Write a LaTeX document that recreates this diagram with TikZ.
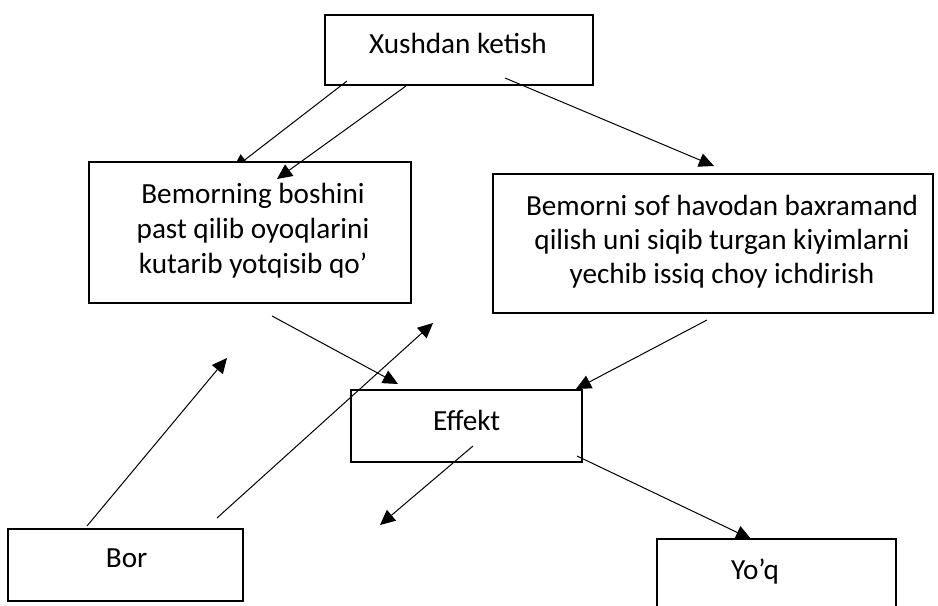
\documentclass[tikz,border=0pt]{standalone}
\usepackage{fontspec}
\setmainfont{Carlito}
\usetikzlibrary{arrows.meta}
\begin{document}
\begin{tikzpicture}[x=0.75pt,y=-0.75pt,
  box/.style={draw, line width=1.6pt, fill=white, inner sep=0pt, outer sep=0pt},
  lbl/.style={font=\fontsize{21.9pt}{26pt}\selectfont, inner sep=0pt, anchor=base},
  arr/.style={line width=0.75pt, -{Triangle[length=11.3pt,width=10.5pt]}}]
\useasboundingbox (0,0) rectangle (938,606);
\clip (0,0) rectangle (938,606);
% connector end points
\coordinate (a1s) at (347,81);  \coordinate (a1e) at (233,169);
\coordinate (a2s) at (406,86);  \coordinate (a2e) at (277,179);
\coordinate (a3s) at (505,78);  \coordinate (a3e) at (714,166);
\coordinate (a4s) at (272,316); \coordinate (a4e) at (398,384);
\coordinate (a5s) at (217,518); \coordinate (a5e) at (433,323);
\coordinate (a6s) at (707,320); \coordinate (a6e) at (576,389);
\coordinate (a7s) at (87,526);  \coordinate (a7e) at (227,358);
\coordinate (a8s) at (473,446); \coordinate (a8e) at (380,525);
\coordinate (a9s) at (577,456); \coordinate (a9e) at (751,539);
% boxes
\node[box, minimum width=267.7*0.75pt, minimum height=70*0.75pt] (top) at (458.9,50) {};
\node[box, minimum width=231*0.75pt, minimum height=72*0.75pt] (eff) at (466.2,426) {};
\node[box, minimum width=440*0.75pt, minimum height=138.7*0.75pt] (rbox) at (713,243.3) {};
\node[box, minimum width=235*0.75pt, minimum height=72*0.75pt] (bor) at (125.8,565) {};
\draw[arr] (a1s) -- (a1e);
\node[box, minimum width=322*0.75pt, minimum height=141*0.75pt] (lbox) at (250,232.5) {};
\draw[arr] (a9s) -- (a9e);
\node[box, minimum width=239*0.75pt, minimum height=101*0.75pt] (yoq) at (776.5,589.5) {};
% connectors
\draw[arr] (a2s) -- (a2e);
\draw[arr] (a3s) -- (a3e);
\draw[arr] (a4s) -- (a4e);
\draw[arr] (a5s) -- (a5e);
\draw[arr] (a6s) -- (a6e);
\draw[arr] (a7s) -- (a7e);
\draw[arr] (a8s) -- (a8e);
% texts
\node[lbl] (ttop) at (458,54) {Xushdan ketish};
\node[lbl] (tl1) at (253,203) {Bemorning boshini};
\node[lbl] (tl2) at (253,238) {past qilib oyoqlarini};
\node[lbl] (tl3) at (253,273) {kutarib yotqisib qo’};
\node[lbl] (tr1) at (722,215) {Bemorni sof havodan baxramand};
\node[lbl] (tr2) at (722,249) {qilish uni siqib turgan kiyimlarni};
\node[lbl] (tr3) at (722,283) {yechib issiq choy ichdirish};
\node[lbl] (teff) at (466.7,430) {Effekt};
\node[lbl] (tbor) at (126.7,567) {Bor};
\node[lbl] (tyoq) at (755,579) {Yo’q};
\end{tikzpicture}
\end{document}
